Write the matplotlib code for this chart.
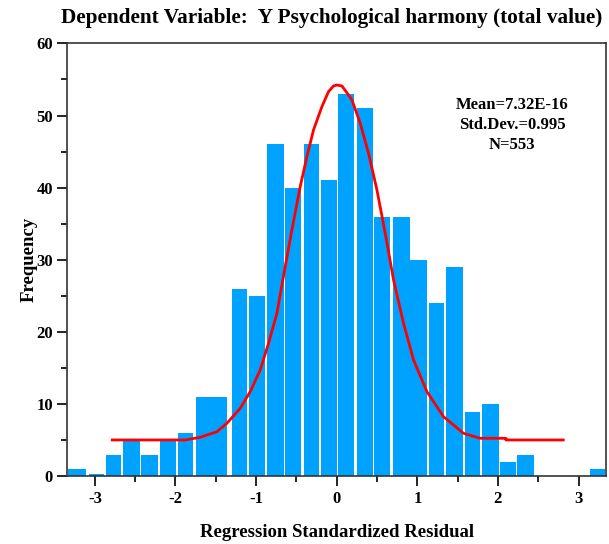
import matplotlib
matplotlib.use("Agg")
import matplotlib.pyplot as plt
from matplotlib.ticker import MultipleLocator

# histogram bars (left edge, right edge, frequency)
bar_left = [-3.328, -3.079, -2.864, -2.649, -2.422, -2.190, -1.975, -1.747,
            -1.300, -1.086, -0.866, -0.639, -0.412, -0.196, 0.019, 0.246,
            0.465, 0.697, 0.903, 1.139, 1.355, 1.586, 1.801, 2.028, 2.231, 3.136]
bar_right = [-3.112, -2.888, -2.670, -2.442, -2.215, -1.995, -1.780, -1.355,
             -1.107, -0.891, -0.660, -0.444, -0.217, -0.002, 0.217, 0.444,
             0.660, 0.903, 1.119, 1.334, 1.561, 1.780, 2.007, 2.227, 2.442, 3.331]
bar_freq = [1, 0.3, 3, 5, 3, 5, 6, 11, 26, 25, 46, 40, 46, 41, 53, 51,
            36, 36, 30, 24, 29, 9, 10, 2, 3, 1]

# red normal curve
curve_x = [-2.785, -1.880, -1.693, -1.486, -1.362, -1.197, -1.073, -0.949,
           -0.846, -0.742, -0.639, -0.556, -0.453, -0.370, -0.288, -0.184,
           -0.102, -0.040, 0.002, 0.065, 0.146, 0.189, 0.292, 0.395, 0.499,
           0.602, 0.705, 0.829, 0.953, 1.119, 1.325, 1.573, 1.780, 2.099,
           2.099, 2.810]
curve_y = [5.06, 5.06, 5.43, 6.20, 7.37, 9.45, 11.75, 14.75, 18.45, 22.60,
           29.06, 34.14, 40.14, 44.29, 47.99, 51.22, 53.30, 54.09, 54.22,
           54.09, 52.84, 52.15, 48.92, 44.76, 39.68, 33.68, 27.22, 21.22,
           16.14, 11.75, 8.28, 5.98, 5.29, 5.29, 5.06, 5.06]

x_ticks = [-3, -2, -1, 0, 1, 2, 3]
y_ticks = [0, 10, 20, 30, 40, 50, 60]

TITLE = "Dependent Variable:  Y Psychological harmony (total value)"
STATS_TEXT = "Mean=7.32E-16\nStd.Dev.=0.995\nN=553"

plt.rcParams["font.family"] = ["Liberation Serif", "DejaVu Serif"]
plt.rcParams["font.weight"] = "bold"
plt.rcParams["axes.unicode_minus"] = False

fig = plt.figure(figsize=(6.09, 5.44), dpi=100)
ax = fig.add_axes([0.1108, 0.1241, 0.8842, 0.7963])

widths = [r - l for l, r in zip(bar_left, bar_right)]
ax.bar(bar_left, bar_freq, width=widths, align="edge",
       color="#00A2FF", edgecolor="none")

ax.plot(curve_x, curve_y, color="#FF0000", linewidth=2)

ax.set_xlim(-3.34, 3.34)
ax.set_ylim(0, 60)
ax.set_xticks(x_ticks)
ax.set_yticks(y_ticks)
ax.xaxis.set_minor_locator(MultipleLocator(0.5))
ax.yaxis.set_minor_locator(MultipleLocator(5))
ax.tick_params(which="major", direction="out", length=7, width=1.2,
               labelsize=12)
ax.tick_params(which="minor", direction="out", length=4, width=1.2)
for label in ax.get_xticklabels() + ax.get_yticklabels():
    label.set_fontweight("bold")

for spine in ax.spines.values():
    spine.set_linewidth(1.2)
    spine.set_color("#333333")

ax.set_xlabel("Regression Standardized Residual", fontsize=13.5,
              fontweight="bold", labelpad=12)
ax.set_ylabel("Frequency", fontsize=13.5, fontweight="bold", labelpad=-1)

fig.text(0.544, 0.967, TITLE, ha="center", va="center", fontsize=15.3,
         fontweight="bold")

ax.text(0.826, 0.875, STATS_TEXT, transform=ax.transAxes, ha="center",
        va="top", fontsize=12, fontweight="bold", linespacing=1.3)

fig.savefig("out.png", dpi=100)
